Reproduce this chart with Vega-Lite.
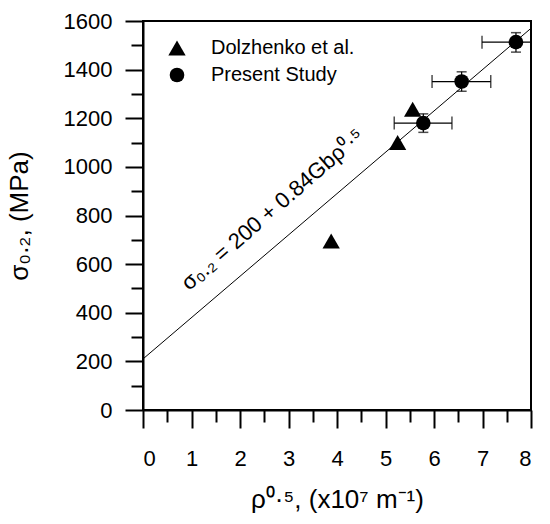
{
  "$schema": "https://vega.github.io/schema/vega-lite/v6.json",
  "width": 388,
  "height": 389,
  "autosize": "none",
  "padding": {"left": 143, "top": 21, "right": 19, "bottom": 114},
  "background": "white",
  "config": {
    "font": "Liberation Sans",
    "view": {"stroke": "black", "strokeWidth": 2},
    "axis": {
      "grid": false,
      "labelFont": "Liberation Sans",
      "labelFontSize": 22,
      "labelColor": "black",
      "titleFont": "Liberation Sans",
      "titleFontSize": 26,
      "titleFontWeight": "normal",
      "titleColor": "black",
      "domainColor": "black",
      "domainWidth": 2,
      "tickColor": "black",
      "tickWidth": 2,
      "format": "d"
    },
    "legend": {
      "labelFont": "Liberation Sans",
      "labelFontSize": 20,
      "labelColor": "black",
      "padding": 0
    }
  },
  "resolve": {"axis": {"x": "independent", "y": "independent"}},
  "datasets": {
    "points": [
      {"study": "Dolzhenko et al.", "rho": 3.88, "sigma": 695},
      {"study": "Dolzhenko et al.", "rho": 5.25, "sigma": 1100},
      {"study": "Dolzhenko et al.", "rho": 5.56, "sigma": 1237},
      {"study": "Present Study", "rho": 5.78, "sigma": 1180, "rho_lo": 5.18, "rho_hi": 6.37, "sig_lo": 1142, "sig_hi": 1218},
      {"study": "Present Study", "rho": 6.57, "sigma": 1351, "rho_lo": 5.96, "rho_hi": 7.17, "sig_lo": 1311, "sig_hi": 1391},
      {"study": "Present Study", "rho": 7.69, "sigma": 1513, "rho_lo": 6.99, "rho_hi": 8.39, "sig_lo": 1472, "sig_hi": 1552}
    ],
    "fit": [
      {"rho": 0, "sigma": 210},
      {"rho": 8, "sigma": 1570}
    ],
    "note": [
      {"rho": 2.67, "sigma": 825, "text": "σ₀.₂ = 200 + 0.84Gbρ⁰·⁵"}
    ]
  },
  "layer": [
    {
      "data": {"name": "fit"},
      "mark": {"type": "line", "color": "black", "strokeWidth": 1, "clip": true},
      "encoding": {
        "x": {
          "field": "rho",
          "type": "quantitative",
          "scale": {"domain": [0, 8], "nice": false},
          "axis": {
            "orient": "bottom",
            "title": "ρ⁰·⁵, (x10⁷ m⁻¹)",
            "values": [0, 1, 2, 3, 4, 5, 6, 7, 8],
            "tickSize": 18,
            "labelPadding": 20,
            "titlePadding": 17
          }
        },
        "y": {
          "field": "sigma",
          "type": "quantitative",
          "scale": {"domain": [0, 1600], "nice": false},
          "axis": {
            "orient": "left",
            "title": "σ₀.₂, (MPa)",
            "values": [0, 200, 400, 600, 800, 1000, 1200, 1400, 1600],
            "tickSize": 18,
            "labelPadding": 13,
            "titlePadding": 31
          }
        }
      }
    },
    {
      "data": {"name": "note"},
      "mark": {"type": "text", "angle": -41, "fontSize": 22, "align": "center", "baseline": "middle", "color": "black"},
      "encoding": {
        "x": {
          "field": "rho",
          "type": "quantitative",
          "axis": {
            "orient": "bottom",
            "title": null,
            "values": [0.5, 1.5, 2.5, 3.5, 4.5, 5.5, 6.5, 7.5],
            "tickSize": 12,
            "labels": false,
            "domain": false
          }
        },
        "y": {
          "field": "sigma",
          "type": "quantitative",
          "axis": {
            "orient": "left",
            "title": null,
            "values": [100, 300, 500, 700, 900, 1100, 1300, 1500],
            "tickSize": 12,
            "labels": false,
            "domain": false
          }
        },
        "text": {"field": "text"}
      }
    },
    {
      "data": {"name": "points"},
      "transform": [{"filter": "datum.rho_lo != null"}],
      "mark": {"type": "rule", "color": "black", "strokeWidth": 1.2, "clip": true},
      "encoding": {
        "x": {"field": "rho_lo", "type": "quantitative", "axis": null},
        "x2": {"field": "rho_hi"},
        "y": {"field": "sigma", "type": "quantitative", "axis": null}
      }
    },
    {
      "data": {"name": "points"},
      "transform": [{"filter": "datum.rho_lo != null"}],
      "mark": {"type": "rule", "color": "black", "strokeWidth": 1.2, "clip": true},
      "encoding": {
        "x": {"field": "rho", "type": "quantitative", "axis": null},
        "y": {"field": "sig_lo", "type": "quantitative", "axis": null},
        "y2": {"field": "sig_hi"}
      }
    },
    {
      "data": {"name": "points"},
      "transform": [
        {"filter": "datum.rho_lo != null"},
        {"fold": ["rho_lo", "rho_hi"], "as": ["end", "xcap"]}
      ],
      "mark": {"type": "tick", "orient": "vertical", "color": "black", "size": 13, "thickness": 1.5, "clip": true},
      "encoding": {
        "x": {"field": "xcap", "type": "quantitative", "axis": null},
        "y": {"field": "sigma", "type": "quantitative", "axis": null}
      }
    },
    {
      "data": {"name": "points"},
      "transform": [
        {"filter": "datum.rho_lo != null"},
        {"fold": ["sig_lo", "sig_hi"], "as": ["end", "ycap"]}
      ],
      "mark": {"type": "tick", "orient": "horizontal", "color": "black", "size": 10, "thickness": 1.5, "clip": true},
      "encoding": {
        "x": {"field": "rho", "type": "quantitative", "axis": null},
        "y": {"field": "ycap", "type": "quantitative", "axis": null}
      }
    },
    {
      "data": {"name": "points"},
      "mark": {"type": "point", "filled": true, "opacity": 1, "color": "black"},
      "encoding": {
        "x": {"field": "rho", "type": "quantitative", "axis": null},
        "y": {"field": "sigma", "type": "quantitative", "axis": null},
        "shape": {
          "field": "study",
          "type": "nominal",
          "scale": {"domain": ["Dolzhenko et al.", "Present Study"], "range": ["triangle-up", "circle"]},
          "legend": {
            "title": null,
            "orient": "none",
            "legendX": 24,
            "legendY": 17,
            "labelOffset": 24,
            "rowPadding": 5,
            "symbolFillColor": "black",
            "symbolStrokeColor": "black"
          }
        },
        "size": {
          "field": "study",
          "type": "nominal",
          "scale": {"domain": ["Dolzhenko et al.", "Present Study"], "range": [300, 215]}
        }
      }
    }
  ]
}
